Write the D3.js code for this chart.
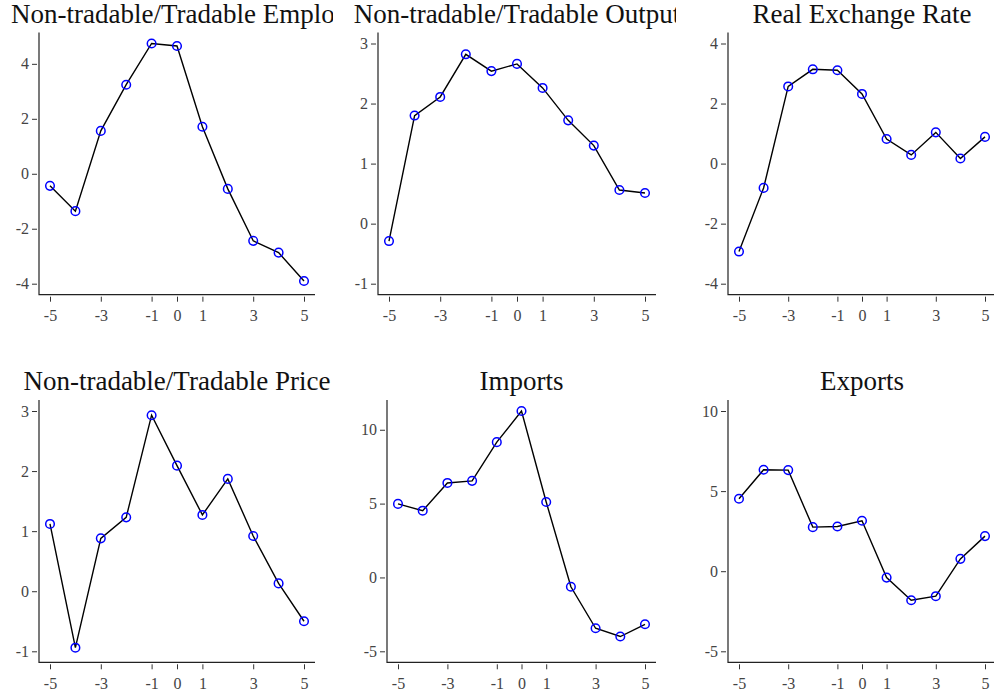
<!DOCTYPE html>
<html>
<head>
<meta charset="utf-8">
<script src="https://cdn.jsdelivr.net/npm/d3@7"></script>
<style>
  html, body { margin: 0; padding: 0; background: #fff; }
  svg { display: block; }
  .title { font-family: "Liberation Serif", "DejaVu Serif", serif; font-size: 27px; fill: #111; }
  .tick text { font-family: "Liberation Serif", "DejaVu Serif", serif; font-size: 16px; fill: #444; }
  .tick line { stroke: #333; stroke-width: 1; }
</style>
</head>
<body>
<svg id="chart" width="994" height="694"></svg>
<script>
// Event time, in years around the episode
const periods = [-5, -4, -3, -2, -1, 0, 1, 2, 3, 4, 5];
const xTicks = [-5, -3, -1, 0, 1, 3, 5];

// Panel titles
const titles = [
  "Non-tradable/Tradable Employment",
  "Non-tradable/Tradable Output",
  "Real Exchange Rate",
  "Non-tradable/Tradable Price",
  "Imports",
  "Exports"
];

// Series values (percent deviation)
const employment = [-0.44, -1.36, 1.56, 3.24, 4.74, 4.65, 1.71, -0.55, -2.44, -2.87, -3.90];
const output     = [-0.29, 1.80, 2.11, 2.82, 2.54, 2.66, 2.26, 1.72, 1.30, 0.56, 0.51];
const rer        = [-2.93, -0.81, 2.57, 3.14, 3.11, 2.32, 0.82, 0.29, 1.04, 0.17, 0.89];
const price      = [1.12, -0.94, 0.88, 1.23, 2.93, 2.09, 1.27, 1.87, 0.92, 0.13, -0.50];
const imports    = [4.98, 4.52, 6.40, 6.54, 9.16, 11.27, 5.11, -0.63, -3.44, -4.00, -3.17];
const exports    = [4.52, 6.33, 6.31, 2.75, 2.79, 3.15, -0.40, -1.81, -1.56, 0.77, 2.19];

// Y-axis tick labels per panel
const yTicksEmployment = [-4, -2, 0, 2, 4];
const yTicksOutput     = [-1, 0, 1, 2, 3];
const yTicksRer        = [-4, -2, 0, 2, 4];
const yTicksPrice      = [-1, 0, 1, 2, 3];
const yTicksImports    = [-5, 0, 5, 10];
const yTicksExports    = [-5, 0, 5, 10];

const seriesList = [employment, output, rer, price, imports, exports];
const yTickList = [yTicksEmployment, yTicksOutput, yTicksRer, yTicksPrice, yTicksImports, yTicksExports];

// Plot-area frames: left/right of the axes, top/bottom, and the cell clip edges for titles
const frames = [
  { left: 39,  right: 315, top: 32.5, bottom: 294.7, cellL: 0,   cellR: 333 },
  { left: 378, right: 656, top: 32.5, bottom: 294.7, cellL: 333, cellR: 676 },
  { left: 728, right: 996, top: 32.5, bottom: 294.7, cellL: 676, cellR: 994 },
  { left: 39,  right: 315, top: 400,  bottom: 662.3, cellL: 0,   cellR: 333 },
  { left: 387, right: 656, top: 400,  bottom: 662.3, cellL: 333, cellR: 676 },
  { left: 728, right: 996, top: 400,  bottom: 662.3, cellL: 676, cellR: 994 }
];

const inset = 11;   // gap between data range and axis ends
const tickGap = 2;  // ticks sit slightly off the axis line
const fmt = d => String(d);  // plain hyphen for negatives

const svg = d3.select("#chart");
const defs = svg.append("defs");

titles.forEach((title, i) => {
  const f = frames[i];
  const values = seriesList[i];
  const yTicks = yTickList[i];

  const x = d3.scaleLinear()
    .domain(d3.extent(xTicks.concat(periods)))
    .range([f.left + inset, f.right - inset]);
  const y = d3.scaleLinear()
    .domain(d3.extent(yTicks.concat(values)))
    .range([f.bottom - inset, f.top + inset]);

  const g = svg.append("g").attr("class", "panel");

  // Title, centred over the plot area, kept inside its cell
  const clipId = "clip-title-" + i;
  defs.append("clipPath").attr("id", clipId)
    .append("rect")
    .attr("x", f.cellL).attr("y", 0)
    .attr("width", f.cellR - f.cellL).attr("height", f.top);
  const t = g.append("text")
    .attr("class", "title")
    .attr("clip-path", "url(#" + clipId + ")")
    .attr("y", f.top - 10)
    .text(title);
  const w = t.node().getComputedTextLength();
  let tx = (f.left + f.right) / 2 - w / 2;
  tx = Math.max(tx, f.cellL + 11);
  t.attr("x", tx);

  // Axes
  const yAxis = d3.axisLeft(y).tickValues(yTicks).tickSize(5).tickPadding(3)
    .tickFormat(fmt);
  g.append("g")
    .attr("transform", `translate(${f.left - tickGap},0)`)
    .call(yAxis)
    .call(a => a.select(".domain").remove());

  const xAxis = d3.axisBottom(x).tickValues(xTicks).tickSize(5).tickPadding(8)
    .tickFormat(fmt);
  g.append("g")
    .attr("transform", `translate(0,${f.bottom + tickGap})`)
    .call(xAxis)
    .call(a => a.select(".domain").remove());

  // Axis lines
  g.append("path")
    .attr("d", `M${f.left},${f.top}V${f.bottom}H${f.right}`)
    .attr("fill", "none")
    .attr("stroke", "#222")
    .attr("stroke-width", 1.2);

  // Series line
  const line = d3.line().x((d, j) => x(periods[j])).y(d => y(d));
  g.append("path")
    .datum(values)
    .attr("d", line)
    .attr("fill", "none")
    .attr("stroke", "#000")
    .attr("stroke-width", 1.4);

  // Hollow markers
  g.selectAll("circle.pt")
    .data(values)
    .join("circle")
    .attr("class", "pt")
    .attr("cx", (d, j) => x(periods[j]))
    .attr("cy", d => y(d))
    .attr("r", 4.3)
    .attr("fill", "none")
    .attr("stroke", "#0000ff")
    .attr("stroke-width", 1.5);
});
</script>
</body>
</html>
